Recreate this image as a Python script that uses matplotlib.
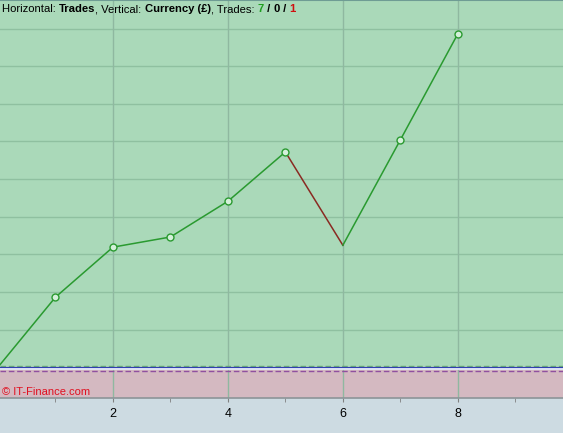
import matplotlib
matplotlib.use('Agg')
import matplotlib.pyplot as plt
from matplotlib.font_manager import FontProperties

# Equity curve per trade (value in grid units, currency axis has no labels)
trades = [0, 1, 2, 3, 4, 5, 6, 7, 8]
equity = [0.0, 1.86, 3.19, 3.46, 4.41, 5.72, 3.24, 6.04, 8.86]
# markers only on winning trades
win_marker = [False, True, True, True, True, True, False, True, True]
xticks = [2, 4, 6, 8]
minor_xticks = [1, 3, 5, 7, 9]
ygrid = [1, 2, 3, 4, 5, 6, 7, 8, 9]

title_parts = [
    ("Horizontal: ", 'normal', '#000000'),
    ("Trades", 'bold', '#000000'),
    (", Vertical: ", 'normal', '#000000'),
    ("Currency (£)", 'bold', '#000000'),
    (", Trades: ", 'normal', '#000000'),
    ("7", 'bold', '#1e9e1e'),
    (" / ", 'bold', '#000000'),
    ("0", 'bold', '#000000'),
    (" / ", 'bold', '#000000'),
    ("1", 'bold', '#d01010'),
]

plt.rcParams['font.family'] = ['Liberation Sans', 'DejaVu Sans']

fig = plt.figure(figsize=(5.63, 4.33), dpi=100)
fig.patch.set_facecolor('#cddbe2')
ax = fig.add_axes([0, 35 / 433, 1, 1 - 35 / 433])

ymin, ymax = -0.82, 9.76
xmin, xmax = 0.035, 9.83
ax.set_xlim(xmin, xmax)
ax.set_ylim(ymin, ymax)

# background zones
ax.axhspan(0, ymax, color='#aad9b9', zorder=0)
ax.axhspan(ymin, 0, color='#d4b9c1', zorder=0)

for g in ygrid:
    ax.axhline(g, color='#8fc0a0', lw=1, zorder=1)
for t in xticks:
    ax.axvline(t, color='#8fb8a0', lw=1, zorder=1)

# zero lines
ax.axhline(0.04, color='#6aa878', lw=1, ls=(0, (4, 2)), zorder=2)
ax.axhline(-0.02, color='#e0e8f8', lw=2, zorder=2)
ax.axhline(0.0, color='#3040b0', lw=0.8, zorder=2)
ax.axhline(-0.09, color='#9050a0', lw=1, ls=(0, (4, 2)), zorder=2)

# line segments, red when the trade lost
for i in range(1, len(trades)):
    c = '#2a9a30' if equity[i] >= equity[i - 1] else '#8a2a22'
    ax.plot(trades[i - 1:i + 1], equity[i - 1:i + 1], color=c, lw=1.1, zorder=3)

mx = [t for t, w in zip(trades, win_marker) if w]
my = [e for e, w in zip(equity, win_marker) if w]
ax.plot(mx, my, 'o', ms=5, mfc='#d4f0da', mec='#2a9a30', mew=1, zorder=4)

ax.set_xticks(xticks)
ax.set_xticklabels([str(t) for t in xticks])
ax.set_xticks(minor_xticks, minor=True)
ax.tick_params(axis='x', which='both', direction='out', length=3, color='#808080',
               labelsize=9, pad=4)
ax.set_yticks([])
for s in ['left', 'right']:
    ax.spines[s].set_visible(False)
ax.spines['bottom'].set_color('#8c9498')
ax.spines['bottom'].set_linewidth(1.2)
ax.spines['top'].set_color('#6f9c94')
ax.spines['top'].set_linewidth(1.5)

# header text made of several pieces
fig.canvas.draw()
renderer = fig.canvas.get_renderer()
fs = 8.1
x0 = 2
for txt, w, c in title_parts:
    fig.text(x0 / 563, 1 - 12 / 433, txt, fontsize=fs, fontweight=w, color=c,
             va='baseline', ha='left')
    prop = FontProperties(family=['Liberation Sans'], size=fs, weight=w)
    tw, th, td = renderer.get_text_width_height_descent(txt, prop, ismath=False)
    x0 += tw

fig.text(2 / 563, 41 / 433, "© IT-Finance.com", fontsize=8, color='#e01020',
         va='center', ha='left')

fig.savefig('out.png', dpi=100, facecolor=fig.get_facecolor())
